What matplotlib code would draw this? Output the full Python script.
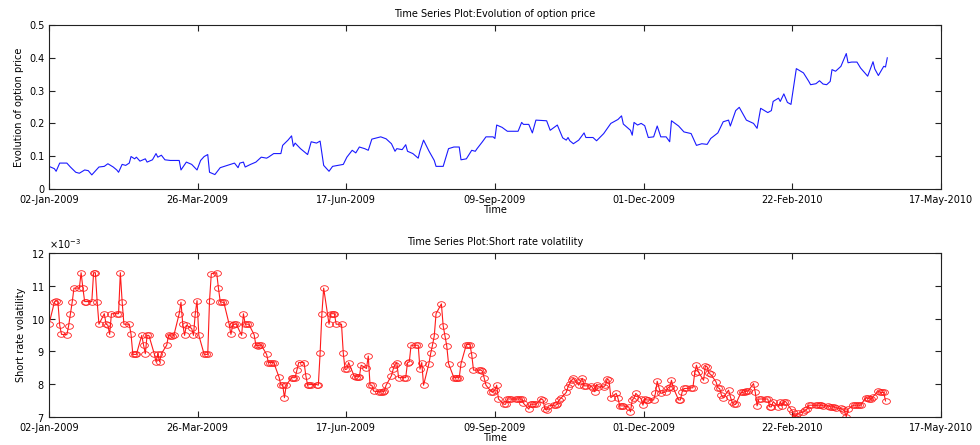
import datetime as dt
import numpy as np
import pandas as pd
import matplotlib
matplotlib.use("Agg")
import matplotlib.pyplot as plt
import matplotlib.dates as mdates
from matplotlib.path import Path
from matplotlib.ticker import FuncFormatter, MultipleLocator

# series start and x-axis span (days)
start = dt.datetime(2009, 1, 2)
span_days = 500

# option price: day offset from 02-Jan-2009, price
price_day = [0, 3, 4, 6, 10, 12, 15, 17, 20, 22, 24, 28, 31, 33, 36, 38, 39, 41, 43, 45,
             46, 48, 49, 51, 54, 55, 58, 60, 61, 63, 65, 68, 73, 74, 77, 80, 83, 85, 87, 89,
             90, 93, 96, 100, 104, 106, 107, 109, 110, 113, 116, 119, 122, 123, 126, 130, 131, 134, 136, 137,
             138, 141, 145, 147, 150, 152, 154, 157, 159, 164, 165, 167, 170, 172, 174, 177, 179, 181, 186, 189,
             192, 194, 195, 198, 200, 201, 204, 207, 208, 210, 213, 216, 217, 221, 224, 227, 230, 231, 234, 237,
             239, 240, 243, 245, 249, 250, 251, 254, 257, 263, 265, 266, 269, 271, 273, 279, 281, 285, 288, 290,
             291, 292, 294, 297, 300, 301, 305, 307, 311, 315, 319, 321, 322, 326, 327, 328, 330, 332, 334, 336,
             339, 341, 343, 346, 348, 349, 353, 356, 360, 363, 366, 369, 371, 375, 378, 381, 382, 385, 387, 391,
             395, 397, 399, 403, 405, 406, 409, 410, 412, 414, 416, 419, 423, 426, 427, 430, 432, 434, 436, 438,
             439, 441, 444, 447, 448, 450, 453, 455, 459, 462, 463, 465, 468, 469, 470]
price = [0.069, 0.062, 0.054, 0.079, 0.079, 0.067, 0.051, 0.048, 0.058, 0.056, 0.043, 0.067, 0.069, 0.077, 0.067, 0.058, 0.051, 0.075, 0.072, 0.079,
         0.099, 0.092, 0.097, 0.085, 0.092, 0.082, 0.089, 0.108, 0.097, 0.103, 0.089, 0.087, 0.087, 0.058, 0.082, 0.075, 0.058, 0.087, 0.099, 0.105,
         0.051, 0.044, 0.065, 0.072, 0.079, 0.065, 0.079, 0.082, 0.067, 0.075, 0.082, 0.097, 0.094, 0.097, 0.108, 0.108, 0.133, 0.149, 0.162, 0.130,
         0.140, 0.123, 0.105, 0.144, 0.140, 0.146, 0.072, 0.054, 0.069, 0.074, 0.075, 0.097, 0.118, 0.110, 0.128, 0.123, 0.118, 0.152, 0.159, 0.153,
         0.138, 0.115, 0.123, 0.120, 0.135, 0.115, 0.108, 0.094, 0.116, 0.149, 0.116, 0.087, 0.069, 0.069, 0.123, 0.128, 0.128, 0.089, 0.092, 0.118,
         0.115, 0.123, 0.144, 0.159, 0.159, 0.154, 0.195, 0.188, 0.176, 0.176, 0.203, 0.197, 0.197, 0.171, 0.210, 0.208, 0.179, 0.195, 0.156, 0.149,
         0.157, 0.147, 0.138, 0.149, 0.171, 0.157, 0.157, 0.147, 0.169, 0.200, 0.212, 0.223, 0.198, 0.179, 0.164, 0.203, 0.195, 0.200, 0.193, 0.157,
         0.159, 0.192, 0.159, 0.159, 0.144, 0.208, 0.192, 0.174, 0.169, 0.133, 0.138, 0.136, 0.154, 0.171, 0.205, 0.210, 0.192, 0.239, 0.249, 0.210,
         0.200, 0.185, 0.246, 0.233, 0.239, 0.267, 0.277, 0.267, 0.290, 0.264, 0.258, 0.367, 0.354, 0.328, 0.318, 0.321, 0.330, 0.320, 0.318, 0.328,
         0.364, 0.359, 0.374, 0.413, 0.385, 0.387, 0.387, 0.369, 0.344, 0.388, 0.366, 0.346, 0.374, 0.372, 0.400]

# short rate volatility, units of 1e-3, one value per business day
vol = [9.83, 10.50, 10.55, 10.50, 9.80, 9.52, 9.51, 9.78, 10.15, 10.50, 10.93, 10.93, 11.40, 10.93, 10.52, 10.52, 10.52, 11.40, 11.40, 10.52,
       9.83, 10.15, 9.83, 9.80, 9.52, 10.15, 10.15, 10.15, 11.40, 10.52, 9.83, 9.83, 9.52, 8.91, 8.91, 8.91, 9.49, 9.20, 8.93, 9.49,
       9.49, 8.93, 8.68, 8.93, 8.68, 8.93, 9.19, 9.49, 9.47, 9.47, 9.49, 10.15, 10.50, 9.83, 9.49, 9.80, 9.70, 9.49, 10.15, 10.55,
       9.49, 8.91, 8.91, 8.91, 10.55, 11.37, 11.40, 10.93, 10.52, 10.50, 10.50, 9.83, 9.52, 9.80, 9.83, 9.83, 9.49, 10.15, 9.83, 9.83,
       9.83, 9.51, 9.19, 9.17,
       9.19, 9.19, 8.91, 8.66, 8.66, 8.66, 8.66, 8.21, 7.97, 7.99, 7.59, 7.97, 8.20, 8.20, 8.20, 8.43, 8.66, 8.66, 8.26, 7.97,
       7.99, 7.99, 7.99, 7.97, 8.94, 10.15, 10.93, 9.83, 10.15, 10.15, 10.15, 9.83, 9.83, 8.94, 8.45, 8.46, 8.66, 8.26, 8.23, 8.23,
       8.23, 8.58, 8.48, 8.86, 7.97, 7.97, 7.79, 7.77, 7.77, 7.77, 7.79, 7.97, 8.26, 8.46, 8.60, 8.66, 8.20, 8.20, 8.20, 8.66,
       8.68, 9.19, 9.19, 9.19, 8.46, 8.66, 7.97, 8.63, 8.94, 9.19, 9.47, 10.15, 10.45, 9.78, 9.47, 9.17, 8.63, 8.20, 8.20, 8.20,
       8.20, 8.63, 9.21, 9.21,
       9.21, 8.90, 8.43, 8.43, 8.43, 8.40, 8.18, 7.97, 7.77, 7.77, 7.82, 7.97, 7.55, 7.39, 7.39, 7.55, 7.55, 7.55, 7.55, 7.55,
       7.55, 7.55, 7.42, 7.24, 7.39, 7.39, 7.39, 7.39, 7.55, 7.52, 7.24, 7.21, 7.34, 7.36, 7.36, 7.39, 7.52, 7.57, 7.75, 7.92,
       8.02, 8.12, 8.18, 7.97, 8.09, 8.18, 7.95, 7.95, 7.95, 7.87, 7.77, 7.99, 7.92, 7.92, 7.97, 8.16, 8.12, 7.59, 7.72, 7.57,
       7.34, 7.34, 7.34, 7.31, 7.16, 7.52, 7.57, 7.72, 7.55, 7.36, 7.55, 7.52, 7.52, 7.52, 7.72, 8.09, 7.89, 7.72, 7.77, 7.89,
       7.92, 8.12, 7.89, 7.52, 7.52, 7.77, 7.87,
       7.87, 7.89, 7.89, 8.33, 8.58, 8.38, 8.12, 8.56, 8.53, 8.33, 8.30, 8.07, 7.89, 7.87, 7.67, 7.59, 7.82, 7.62, 7.45, 7.39,
       7.39, 7.75, 7.75, 7.77, 7.79, 7.79, 8.02, 7.75, 7.34, 7.55, 7.55, 7.55, 7.55, 7.31, 7.31, 7.47, 7.31, 7.47, 7.34, 7.47,
       7.47, 7.24, 7.16, 6.98, 7.04, 7.11, 7.16, 7.21, 7.24, 7.36, 7.36, 7.36, 7.36, 7.36, 7.36, 7.34, 7.34, 7.31, 7.31, 7.31,
       7.28, 7.26, 7.24, 7.18, 7.01, 7.24, 7.36, 7.36, 7.36, 7.36, 7.36, 7.59, 7.57, 7.55, 7.55, 7.62, 7.79, 7.75, 7.75, 7.75,
       7.49]

price_dates = [start + dt.timedelta(days=d) for d in price_day]
vol_dates = pd.bdate_range(start, periods=len(vol))
vol_vals = np.array(vol) * 1e-3

plt.rcParams['font.family'] = 'DejaVu Sans'
plt.rcParams['font.size'] = 7

fig = plt.figure(figsize=(9.8, 4.45), dpi=100)
ax1 = fig.add_axes([0.05, 0.5753, 0.910, 0.3685])
ax2 = fig.add_axes([0.05, 0.0629, 0.910, 0.3685])

# open elliptical circle marker
theta = np.linspace(0, 2 * np.pi, 41)
ellipse = Path(np.column_stack([1.4 * np.cos(theta), np.sin(theta)]))

ax1.plot(price_dates, price, color=(0.1, 0.1, 1.0), lw=0.8)
ax2.plot(vol_dates, vol_vals, color=(1.0, 0.1, 0.1), lw=0.8, marker=ellipse,
         markersize=5.6, markerfacecolor='none', markeredgewidth=0.6)

x0 = mdates.date2num(start)
xticks = x0 + np.linspace(0, span_days, 7)
datefmt = mdates.DateFormatter('%d-%b-%Y')

for ax in (ax1, ax2):
    ax.set_xlim(x0, x0 + span_days)
    ax.set_xticks(xticks)
    ax.xaxis.set_major_formatter(datefmt)
    ax.tick_params(direction='in', top=True, right=True, length=4.5, width=0.8,
                   colors='#222222', labelcolor='black', labelsize=7)
    ax.tick_params(axis='x', pad=4.5)
    ax.tick_params(axis='y', pad=3)
    for s in ax.spines.values():
        s.set_linewidth(0.8)
        s.set_color('#222222')
    ax.set_xlabel('Time', fontsize=7, labelpad=0)

ax1.set_ylim(0, 0.5)
ax1.yaxis.set_major_locator(MultipleLocator(0.1))
ax1.yaxis.set_major_formatter(FuncFormatter(lambda v, p: f'{v:g}'))
ax1.set_ylabel('Evolution of option price', fontsize=7, labelpad=4)
ax1.set_title('Time Series Plot:Evolution of option price', fontsize=7, pad=6)

ax2.set_ylim(0.007, 0.012)
ax2.yaxis.set_major_locator(MultipleLocator(0.001))
ax2.ticklabel_format(axis='y', style='sci', scilimits=(-3, -3), useMathText=True)
ax2.yaxis.get_offset_text().set_fontsize(7)
ax2.set_ylabel('Short rate volatility', fontsize=7, labelpad=4)
ax2.set_title('Time Series Plot:Short rate volatility', fontsize=7, pad=6)

fig.savefig('out.png', dpi=100)
